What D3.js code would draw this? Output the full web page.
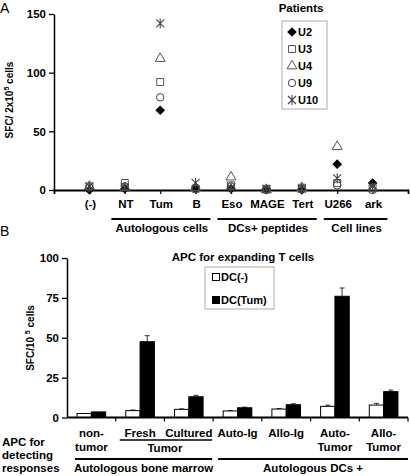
<!DOCTYPE html>
<html><head><meta charset="utf-8">
<script src="https://cdn.jsdelivr.net/npm/d3@7"></script>
<style>
html,body{margin:0;padding:0;background:#fff;}
text{font-family:"Liberation Sans",Arial,sans-serif;}
</style></head>
<body>
<svg id="c" width="410" height="476"></svg>
<script>
// ---------- Panel A data ----------
const catsA = ["(-)", "NT", "Tum", "B", "Eso", "MAGE", "Tert", "U266", "ark"];
const patients = ["U2", "U3", "U4", "U9", "U10"];
const U2  = [0, 1, 68, 1, 1, 1, 0, 22, 6];
const U3  = [3, 6, 92, 1, 4, 1, 2, 6, 2];
const U4  = [3, 2, 112, 2, 11, 0, 2, 37, 1];
const U9  = [2, 3, 79, 2, 3, 0, 1, 4, 0];
const U10 = [3, 2, 142, 6, 2, 1, 1, 10, 3];
const ticksA = [0, 50, 100, 150];
const groupsA = [
  {label: "Autologous cells", first: "NT", last: "B"},
  {label: "DCs+ peptides", first: "Eso", last: "Tert"},
  {label: "Cell lines", first: "U266", last: "ark"}
];

// ---------- Panel B data ----------
const catsB = ["non-tumor", "Fresh", "Cultured", "Auto-Ig", "Allo-Ig", "Auto-Tumor", "Allo-Tumor"];
const labelsB1 = ["non-", "Fresh", "Cultured", "Auto-Ig", "Allo-Ig", "Auto-", "Allo-"];
const labelsB2 = ["tumor", "", "", "", "", "Tumor", "Tumor"];
const seriesB = ["DC(-)", "DC(Tum)"];
const dcNeg    = [2.5, 4.3, 5.1, 4.1, 5.3, 7.0, 7.8];
const dcNegErr = [0, 0.4, 0.3, 0.3, 0.3, 0.7, 1.1];
const dcTum    = [3.5, 47.5, 13.0, 6.1, 8.0, 76.0, 16.2];
const dcTumErr = [0, 3.8, 0.9, 0.4, 0.6, 5.2, 1.0];
const ticksB = [0, 25, 50, 75, 100];

const svg = d3.select("#c");
svg.append("rect").attr("width", 410).attr("height", 476).attr("fill", "#fff");
const bold = sel => sel.attr("font-weight", "bold").attr("font-size", 11.5).attr("fill", "#000");
const boldS = sel => sel.attr("font-weight", "bold").attr("font-size", 11).attr("fill", "#000");

// ================= PANEL A =================
const xA = d3.scalePoint().domain(catsA).range([54, 408]).padding(1);
const yA = d3.scaleLinear().domain([0, 150]).range([190, 14]);

svg.append("text").attr("x", 0).attr("y", 13).attr("font-size", 14).text("A");

const gyA = svg.append("g").attr("transform", "translate(54,0)")
  .call(d3.axisLeft(yA).tickValues(ticksA).tickSize(5).tickSizeOuter(0).tickPadding(3));
gyA.select(".domain").attr("stroke-width", 1.5);
gyA.selectAll(".tick line").attr("stroke-width", 1.3);
gyA.selectAll(".tick text").call(bold).attr("font-family", "Liberation Sans, Arial, sans-serif");

// x axis A
const gxA = svg.append("g").attr("transform", "translate(0,190)")
  .call(d3.axisBottom(xA).tickSize(4).tickSizeOuter(4).tickFormat(""));
gxA.select(".domain").attr("stroke-width", 1.8);
gxA.selectAll(".tick line").attr("stroke-width", 1.2);

svg.append("g").selectAll("text").data(catsA).join("text")
  .attr("x", d => xA(d) + 1).attr("y", 208).attr("text-anchor", "middle")
  .call(bold).text(d => d);

groupsA.forEach(g => {
  const x0 = xA(g.first) - xA.step() * 0.38, x1 = xA(g.last) + xA.step() * 0.42;
  svg.append("line").attr("x1", x0).attr("x2", x1).attr("y1", 219).attr("y2", 219)
    .attr("stroke", "#000").attr("stroke-width", 1.8);
  svg.append("text").attr("x", (x0 + x1) / 2 + 1).attr("y", 232).attr("text-anchor", "middle")
    .call(bold).text(g.label);
});

// y title A
const tA = svg.append("text").attr("transform", "translate(13,100) rotate(-90)")
  .attr("text-anchor", "middle").attr("font-weight", "bold").attr("font-size", 10);
tA.append("tspan").text("SFC/ 2x10");
tA.append("tspan").attr("font-size", 7).attr("dy", -4).text("5");
tA.append("tspan").attr("dy", 4).text(" cells");

// markers
const diamond = d3.symbol().type(d3.symbolSquare).size(34);
const square = d3.symbol().type(d3.symbolSquare).size(48);
const triangle = d3.symbol().type(d3.symbolTriangle).size(42);
const circle = d3.symbol().type(d3.symbolCircle).size(44);
const asterisk = "M-4,-4L4,4M-4,4L4,-4M0,-5L0,5";
const styles = {
  U2: {d: diamond(), rot: 45, fill: "#000", stroke: "#000", sw: 1},
  U3: {d: square(), rot: 0, fill: "none", stroke: "#555", sw: 1},
  U4: {d: triangle(), rot: 0, fill: "none", stroke: "#555", sw: 1},
  U9: {d: circle(), rot: 0, fill: "none", stroke: "#444", sw: 1},
  U10: {d: asterisk, rot: 0, fill: "none", stroke: "#444", sw: 1.1}
};
const seriesA = {U2, U3, U4, U9, U10};
patients.forEach(p => {
  const s = styles[p];
  svg.append("g").selectAll("path").data(seriesA[p]).join("path")
    .attr("d", s.d)
    .attr("transform", (v, i) => `translate(${xA(catsA[i])},${yA(v)}) rotate(${s.rot})`)
    .attr("fill", s.fill).attr("stroke", s.stroke).attr("stroke-width", s.sw);
});

// legend A
svg.append("text").attr("x", 301).attr("y", 12).attr("text-anchor", "middle").call(bold).text("Patients");
svg.append("rect").attr("x", 282).attr("y", 21).attr("width", 45).attr("height", 88)
  .attr("fill", "#fff").attr("stroke", "#aaa").attr("stroke-width", 1);
patients.forEach((p, i) => {
  const yy = 32 + i * 17, s = styles[p];
  svg.append("path").attr("d", s.d).attr("transform", `translate(292,${yy}) rotate(${s.rot})`)
    .attr("fill", s.fill).attr("stroke", s.stroke).attr("stroke-width", s.sw);
  svg.append("text").attr("x", 298).attr("y", yy + 4).call(boldS).text(p);
});

// ================= PANEL B =================
const xB = d3.scaleBand().domain(catsB).range([67, 408]);
const xB1 = d3.scaleBand().domain(seriesB).range([0, xB.bandwidth()]).paddingOuter(0.7);
const yB = d3.scaleLinear().domain([0, 100]).range([417.5, 258]);

svg.append("text").attr("x", 0).attr("y", 236).attr("font-size", 14).text("B");

const gyB = svg.append("g").attr("transform", "translate(67,0)")
  .call(d3.axisLeft(yB).tickValues(ticksB).tickSize(5).tickSizeOuter(0).tickPadding(3));
gyB.select(".domain").attr("stroke-width", 1.5);
gyB.selectAll(".tick line").attr("stroke-width", 1.3);
gyB.selectAll(".tick text").call(bold).attr("font-family", "Liberation Sans, Arial, sans-serif");

// y title B
const tB = svg.append("text").attr("transform", "translate(34,338) rotate(-90)")
  .attr("text-anchor", "middle").attr("font-weight", "bold").attr("font-size", 10);
tB.append("tspan").text("SFC/10 ");
tB.append("tspan").attr("font-size", 7).attr("dy", -4).text("5");
tB.append("tspan").attr("dy", 4).text(" cells");

// bars
const dataB = [
  {key: "DC(-)", vals: dcNeg, errs: dcNegErr, fill: "#fff"},
  {key: "DC(Tum)", vals: dcTum, errs: dcTumErr, fill: "#000"}
];
dataB.forEach(s => {
  const g = svg.append("g");
  s.vals.forEach((v, i) => {
    const x = xB(catsB[i]) + xB1(s.key), w = xB1.bandwidth();
    const e = s.errs[i];
    if (e > 0) {
      const cx = x + w / 2;
      g.append("line").attr("x1", cx).attr("x2", cx).attr("y1", yB(v)).attr("y2", yB(v + e))
        .attr("stroke", "#333").attr("stroke-width", 1);
      g.append("line").attr("x1", cx - 2.5).attr("x2", cx + 2.5).attr("y1", yB(v + e)).attr("y2", yB(v + e))
        .attr("stroke", "#333").attr("stroke-width", 1);
    }
    g.append("rect").attr("x", x).attr("y", yB(v)).attr("width", w).attr("height", yB(0) - yB(v))
      .attr("fill", s.fill).attr("stroke", "#000").attr("stroke-width", 1);
  });
});

// x axis B
const gxB = svg.append("g").attr("transform", `translate(0,${yB(0)})`);
gxB.append("line").attr("x1", 67).attr("x2", 408).attr("stroke", "#000").attr("stroke-width", 1.8);
gxB.selectAll("line.tk").data(catsB.slice(1).concat(["end"])).join("line").attr("class", "tk")
  .attr("x1", d => d === "end" ? 408 : xB(d)).attr("x2", d => d === "end" ? 408 : xB(d))
  .attr("y1", 0).attr("y2", 4).attr("stroke", "#000").attr("stroke-width", 1.2);

svg.append("g").selectAll("text").data(labelsB1).join("text")
  .attr("x", (d, i) => xB(catsB[i]) + xB.bandwidth() / 2).attr("y", 437)
  .attr("text-anchor", "middle").call(bold).text(d => d);
svg.append("g").selectAll("text").data(labelsB2).join("text")
  .attr("x", (d, i) => xB(catsB[i]) + xB.bandwidth() / 2).attr("y", 451)
  .attr("text-anchor", "middle").call(bold).text(d => d);

// Tumor grouping
const tx0 = xB("Fresh") + 4, tx1 = xB("Cultured") + xB.bandwidth() - 1;
svg.append("line").attr("x1", tx0).attr("x2", tx1).attr("y1", 440).attr("y2", 440).attr("stroke", "#000").attr("stroke-width", 1.5);
svg.append("text").attr("x", (tx0 + tx1) / 2 - 1).attr("y", 452).attr("text-anchor", "middle").call(bold).text("Tumor");

const gb0 = xB("non-tumor") + 8, gb1 = xB("Cultured") + xB.bandwidth() - 1;
const gd0 = xB("Auto-Ig") + 5, gd1 = 408;
[[gb0, gb1, "Autologous bone marrow"], [gd0, gd1, "Autologous DCs +"]].forEach(([a, b, t]) => {
  svg.append("line").attr("x1", a).attr("x2", b).attr("y1", 459).attr("y2", 459).attr("stroke", "#000").attr("stroke-width", 1.8);
  svg.append("text").attr("x", (a + b) / 2).attr("y", 472).attr("text-anchor", "middle").call(bold).text(t);
});

// left labels
["APC for", "detecting", "responses"].forEach((t, i) => {
  svg.append("text").attr("x", 2).attr("y", 446 + i * 13).call(bold).text(t);
});

// legend B
svg.append("text").attr("x", 243).attr("y", 261).attr("text-anchor", "middle").call(bold).text("APC for expanding T cells");
svg.append("rect").attr("x", 205).attr("y", 267).attr("width", 69).attr("height", 42)
  .attr("fill", "#fff").attr("stroke", "#aaa").attr("stroke-width", 1);
dataB.forEach((s, i) => {
  const yy = 277 + i * 23;
  svg.append("rect").attr("x", 212.5).attr("y", yy - 3.5).attr("width", 7).attr("height", 7)
    .attr("fill", s.fill).attr("stroke", "#000").attr("stroke-width", 1);
  svg.append("text").attr("x", 221).attr("y", yy + 4).call(boldS).text(s.key);
});
</script>
</body></html>
